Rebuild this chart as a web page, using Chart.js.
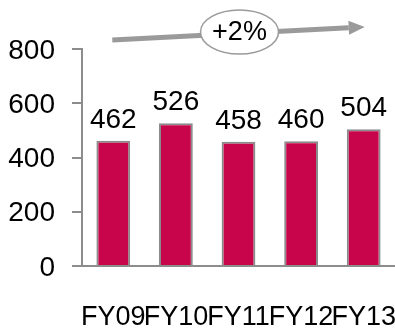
<!DOCTYPE html>
<html>
<head>
<meta charset="utf-8">
<script src="https://cdn.jsdelivr.net/npm/chart.js@4/dist/chart.umd.min.js"></script>
<style>
  html, body { margin: 0; padding: 0; background: #fff; }
  #wrap { width: 395px; height: 328px; position: relative; }
</style>
</head>
<body>
<div id="wrap"><canvas id="c"></canvas></div>
<script>
// Revenue by fiscal year
const categories = ['FY09', 'FY10', 'FY11', 'FY12', 'FY13'];
const values = [462, 526, 458, 460, 504];
const yTicks = [0, 200, 400, 600, 800];

const FONT = 'Liberation Sans, Arial, sans-serif';
const FONT_SIZE = 28;
const BAR_COLOR = '#C8054A';
const GRAY = '#8C8C8C';

// Compound annual growth from first to last year
const cagr = Math.pow(values[values.length - 1] / values[0], 1 / (values.length - 1)) - 1;
const growthText = (cagr >= 0 ? '+' : '') + Math.round(cagr * 100) + '%';

// Value labels above each bar
const valueLabels = {
  id: 'valueLabels',
  afterDatasetsDraw(chart) {
    const ctx = chart.ctx;
    const meta = chart.getDatasetMeta(0);
    ctx.save();
    ctx.font = FONT_SIZE + 'px ' + FONT;
    ctx.fillStyle = '#000';
    ctx.textAlign = 'center';
    ctx.textBaseline = 'alphabetic';
    meta.data.forEach((bar, i) => {
      ctx.fillText(String(values[i]), bar.x, bar.y - 13);
    });
    ctx.restore();
  }
};

// Growth arrow spanning the first to last bar, with the rate in an ellipse
const growthArrow = {
  id: 'growthArrow',
  afterDraw(chart) {
    const ctx = chart.ctx;
    const meta = chart.getDatasetMeta(0);
    const top = chart.chartArea.top;
    const x0 = meta.data[0].x - 1;
    const x1 = meta.data[meta.data.length - 1].x + 1;
    const y0 = top - 9;
    const y1 = top - 22;
    const headLen = 16, headHalf = 7;
    const ang = Math.atan2(y1 - y0, x1 - x0);
    const bx = x1 - headLen * Math.cos(ang);
    const by = y1 - headLen * Math.sin(ang);

    ctx.save();
    ctx.strokeStyle = '#9A9A9A';
    ctx.fillStyle = '#9A9A9A';
    ctx.lineWidth = 5;
    ctx.beginPath();
    ctx.moveTo(x0, y0);
    ctx.lineTo(bx, by);
    ctx.stroke();
    ctx.beginPath();
    ctx.moveTo(x1, y1);
    ctx.lineTo(bx + headHalf * Math.sin(ang), by - headHalf * Math.cos(ang));
    ctx.lineTo(bx - headHalf * Math.sin(ang), by + headHalf * Math.cos(ang));
    ctx.closePath();
    ctx.fill();

    const cx = (x0 + x1) / 2 + 1;
    const cy = top - 17;
    ctx.beginPath();
    ctx.ellipse(cx, cy, 39, 22, 0, 0, Math.PI * 2);
    ctx.fillStyle = '#fff';
    ctx.fill();
    ctx.lineWidth = 1.5;
    ctx.strokeStyle = '#9A9A9A';
    ctx.stroke();

    ctx.fillStyle = '#000';
    ctx.font = (FONT_SIZE - 1) + 'px ' + FONT;
    ctx.textAlign = 'center';
    ctx.textBaseline = 'middle';
    ctx.fillText(growthText, cx, cy + 1);
    ctx.restore();
  }
};

new Chart(document.getElementById('c'), {
  type: 'bar',
  data: {
    labels: categories,
    datasets: [{
      data: values,
      backgroundColor: BAR_COLOR,
      borderColor: GRAY,
      borderWidth: 2,
      categoryPercentage: 1,
      barPercentage: 0.54
    }]
  },
  options: {
    responsive: true,
    maintainAspectRatio: false,
    animation: false,
    layout: { padding: { top: 49, right: 0, bottom: 0, left: 0 } },
    plugins: {
      legend: { display: false },
      tooltip: { enabled: false }
    },
    scales: {
      x: {
        afterFit(scale) {
          scale.height = 62;
          scale.paddingLeft = 0;
          scale.paddingRight = 0;
        },
        grid: { display: false, drawTicks: false },
        border: { display: true, color: GRAY, width: 2 },
        ticks: {
          autoSkip: false,
          maxRotation: 0,
          minRotation: 0,
          padding: 35,
          color: '#000',
          font: { family: FONT, size: FONT_SIZE - 1 }
        }
      },
      y: {
        min: 0,
        max: 800,
        afterBuildTicks(scale) {
          scale.ticks = yTicks.map(v => ({ value: v }));
        },
        afterFit(scale) { scale.width = 82; },
        grid: {
          drawOnChartArea: false,
          drawTicks: true,
          tickLength: 10,
          color: GRAY,
          lineWidth: 2
        },
        border: { display: true, color: GRAY, width: 2 },
        ticks: {
          padding: 17,
          labelOffset: 2,
          color: '#000',
          font: { family: FONT, size: FONT_SIZE }
        }
      }
    }
  },
  plugins: [valueLabels, growthArrow]
});
</script>
</body>
</html>
